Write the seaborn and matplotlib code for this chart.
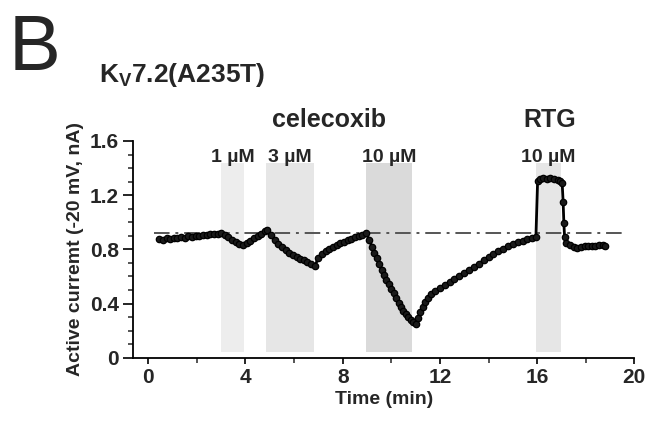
import matplotlib
matplotlib.use("Agg")
import matplotlib.pyplot as plt
import seaborn as sns
import pandas as pd

# ==== data ====
t_base = [0.45, 0.6, 0.75, 0.9, 1.05, 1.2, 1.35, 1.5, 1.65, 1.8, 1.95, 2.1, 2.25, 2.4, 2.55, 2.7, 2.85, 3.0]
i_base = [0.875, 0.870, 0.880, 0.878, 0.885, 0.882, 0.890, 0.887, 0.895, 0.893, 0.900, 0.897, 0.903, 0.905, 0.910, 0.912, 0.915, 0.920]

t_cel1 = [3.15, 3.3, 3.45, 3.6, 3.75, 3.9, 4.05, 4.2, 4.35, 4.5, 4.65, 4.8, 4.9]
i_cel1 = [0.905, 0.890, 0.872, 0.855, 0.840, 0.832, 0.845, 0.862, 0.880, 0.897, 0.915, 0.932, 0.940]

t_cel3 = [5.05, 5.2, 5.35, 5.5, 5.65, 5.8, 5.95, 6.1, 6.25, 6.4, 6.55, 6.7, 6.85]
i_cel3 = [0.905, 0.868, 0.838, 0.815, 0.795, 0.775, 0.760, 0.745, 0.732, 0.720, 0.705, 0.690, 0.678]

t_wash1 = [7.0, 7.15, 7.3, 7.45, 7.6, 7.75, 7.9, 8.05, 8.2, 8.35, 8.5, 8.65, 8.8, 8.95]
i_wash1 = [0.735, 0.765, 0.785, 0.805, 0.820, 0.833, 0.845, 0.857, 0.868, 0.878, 0.888, 0.898, 0.908, 0.922]

t_cel10 = [9.1, 9.2, 9.3, 9.4, 9.5, 9.6, 9.7, 9.8, 9.9, 10.0, 10.1, 10.2, 10.3, 10.4, 10.5, 10.6, 10.7, 10.8, 10.9, 11.0]
i_cel10 = [0.870, 0.820, 0.775, 0.733, 0.690, 0.648, 0.610, 0.575, 0.542, 0.508, 0.475, 0.440, 0.405, 0.372, 0.345, 0.322, 0.300, 0.280, 0.262, 0.250]

t_wash2 = [11.1, 11.2, 11.3, 11.4, 11.5, 11.65, 11.8, 12.0, 12.2, 12.4, 12.6, 12.8, 13.0, 13.2, 13.4,
           13.6, 13.8, 14.0, 14.2, 14.4, 14.6, 14.8, 15.0, 15.2, 15.4, 15.6, 15.8, 15.95]
i_wash2 = [0.290, 0.335, 0.375, 0.410, 0.440, 0.470, 0.492, 0.512, 0.535, 0.558, 0.582, 0.605, 0.628, 0.650, 0.672,
           0.695, 0.718, 0.740, 0.762, 0.785, 0.805, 0.822, 0.838, 0.852, 0.864, 0.873, 0.882, 0.890]

t_rtg = [16.02, 16.1, 16.25, 16.4, 16.55, 16.7, 16.85, 16.95, 17.03, 17.07, 17.1, 17.13, 17.2]
i_rtg = [1.305, 1.322, 1.325, 1.322, 1.325, 1.318, 1.312, 1.305, 1.290, 1.150, 0.995, 0.890, 0.845]

t_end = [17.35, 17.5, 17.65, 17.8, 17.95, 18.1, 18.25, 18.4, 18.55, 18.7, 18.8]
i_end = [0.830, 0.820, 0.812, 0.815, 0.822, 0.825, 0.828, 0.826, 0.830, 0.832, 0.828]

baseline_level = 0.922

# application windows (min)
win_labels = ["1 \u00b5M", "3 \u00b5M", "10 \u00b5M", "10 \u00b5M"]
win_start = [3.0, 4.85, 8.95, 15.95]
win_end = [3.95, 6.8, 10.87, 16.98]
win_color = ["#ededed", "#e6e6e6", "#dadada", "#e6e6e6"]

df = pd.DataFrame({
    "time": t_base + t_cel1 + t_cel3 + t_wash1 + t_cel10 + t_wash2 + t_rtg + t_end,
    "current": i_base + i_cel1 + i_cel3 + i_wash1 + i_cel10 + i_wash2 + i_rtg + i_end,
})

# ==== plot ====
sns.set_style("ticks")
plt.rcParams["font.family"] = ["Liberation Sans", "DejaVu Sans"]
plt.rcParams["font.weight"] = "bold"
plt.rcParams["mathtext.fontset"] = "custom"
plt.rcParams["mathtext.rm"] = "Liberation Sans:bold"
plt.rcParams["mathtext.it"] = "Liberation Sans:bold"
plt.rcParams["mathtext.bf"] = "Liberation Sans:bold"

fig = plt.figure(figsize=(6.49, 4.24), dpi=100)
ax = fig.add_axes([0.2049, 0.1564, 0.7725, 0.5111])

for s, e, c, lab in zip(win_start, win_end, win_color, win_labels):
    ax.fill_between([s, e], 0.04, 1.44, color=c, linewidth=0, zorder=0)
    ax.text((s + e) / 2, 1.48, lab, ha="center", va="center", fontsize=14,
            fontweight="bold", clip_on=False)

ax.plot([0.25, 19.5], [baseline_level, baseline_level], color="#555555",
        linestyle=(0, (8, 3, 1.5, 3)), linewidth=1.4, zorder=1)

sns.lineplot(data=df, x="time", y="current", ax=ax, color="black", linewidth=2,
             marker="o", markersize=4.6, markeredgecolor="black", markerfacecolor="#1a1a1a",
             markeredgewidth=0.9, sort=False, estimator=None, zorder=3)

ax.text(7.45, 1.755, "celecoxib", ha="center", va="center", fontsize=18, fontweight="bold", clip_on=False)
ax.text(16.5, 1.755, "RTG", ha="center", va="center", fontsize=18, fontweight="bold", clip_on=False)

ax.set_xlim(-0.63, 20)
ax.set_ylim(0, 1.6)
ax.set_xticks([0, 4, 8, 12, 16, 20])
ax.set_xticks([2, 6, 10, 14, 18], minor=True)
ax.set_yticks([0, 0.4, 0.8, 1.2, 1.6])
ax.set_yticklabels(["0", "0.4", "0.8", "1.2", "1.6"])
ax.set_yticks([x / 10 for x in range(17)], minor=True)
ax.tick_params(axis="both", which="major", labelsize=15, width=1.2, color="black", pad=3)
ax.tick_params(axis="y", which="major", length=7)
ax.tick_params(axis="y", which="minor", length=3.5, width=1.1)
ax.tick_params(axis="x", which="major", length=4.5)
ax.tick_params(axis="x", which="minor", length=3.5, width=1.1)
for lab in ax.get_xticklabels() + ax.get_yticklabels():
    lab.set_fontweight("bold")

ax.set_xlabel("Time (min)", fontsize=14, fontweight="bold", labelpad=3)
ax.set_ylabel("Active curremt (-20 mV, nA)", fontsize=14, fontweight="bold", labelpad=4)
sns.despine(ax=ax)
for sp in ["left", "bottom"]:
    ax.spines[sp].set_linewidth(1.3)
    ax.spines[sp].set_color("black")

fig.text(0.014, 0.835, "B", fontsize=56, fontweight="normal", ha="left", va="baseline")
fig.text(0.152, 0.807, r"$\mathrm{K_V7.2(A235T)}$", fontsize=19, ha="left", va="baseline")

fig.savefig("out.png", dpi=100, facecolor="white")
